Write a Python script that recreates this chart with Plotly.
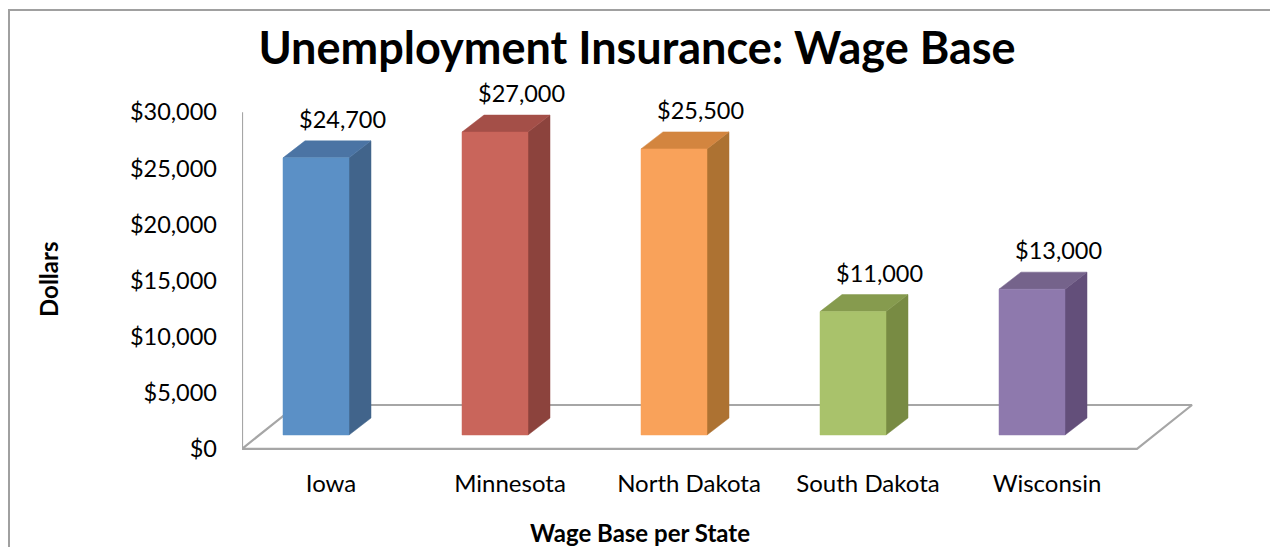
import plotly.graph_objects as go

# ---------------- data ----------------
states = ["Iowa", "Minnesota", "North Dakota", "South Dakota", "Wisconsin"]
wage_base = [24700, 27000, 25500, 11000, 13000]
y_ticks = [0, 5000, 10000, 15000, 20000, 25000, 30000]
y_tick_text = ["$0", "$5,000", "$10,000", "$15,000", "$20,000", "$25,000", "$30,000"]

front_colors = ["#5B90C6", "#C9655B", "#F9A25A", "#A9C26B", "#8E79AD"]
side_colors = ["#41648B", "#8C433D", "#AD7232", "#788B43", "#634F7A"]
top_colors = ["#4B74A4", "#A44F48", "#D3853F", "#869B4E", "#75638B"]

# ---------------- geometry (pixel-based styling, page coords) ----------------
OFF = 8                                   # page body margin
W_PAGE, H_PAGE = 1278, 547
W_FIG, H_FIG = W_PAGE - OFF, H_PAGE - OFF
PLOT_L, PLOT_T, PLOT_R, PLOT_B = 242, 80, 1211, 457     # page px
L, T = PLOT_L - OFF, PLOT_T - OFF
R, B = W_FIG - (PLOT_R - OFF), H_FIG - (PLOT_B - OFF)
PW, PH = PLOT_R - PLOT_L, PLOT_B - PLOT_T
PX_PER_CAT = 179.0
PX_PER_DOLLAR = 0.01122
FIRST_CENTER_PX = 316
BASE_PX = 435

x0r = -(FIRST_CENTER_PX - PLOT_L) / PX_PER_CAT
x1r = x0r + PW / PX_PER_CAT
y1r = (BASE_PX - PLOT_T) / PX_PER_DOLLAR
y0r = y1r - PH / PX_PER_DOLLAR

BAR_W = 66 / PX_PER_CAT
DX = 22 / PX_PER_CAT
DY = 17 / PX_PER_DOLLAR
TICK_OFF = 1230
FLOOR_FRONT = -TICK_OFF
FLOOR_BACK = (BASE_PX - 405) / PX_PER_DOLLAR
FLOOR_DX = 55 / PX_PER_CAT


def px_x(p):
    return (p - PLOT_L) / PW


def px_y(p):
    return (PLOT_B - p) / PH


fig = go.Figure()

fl_left = x0r
fl_right = x0r + 5.0
fig.add_trace(go.Scatter(
    x=[fl_left, fl_right, fl_right + FLOOR_DX, fl_left + FLOOR_DX, fl_left],
    y=[FLOOR_FRONT, FLOOR_FRONT, FLOOR_BACK, FLOOR_BACK, FLOOR_FRONT],
    mode="lines", line=dict(color="#A6A6A6", width=2.2),
    hoverinfo="skip", showlegend=False))
fig.add_trace(go.Scatter(
    x=[fl_left, fl_left], y=[FLOOR_FRONT, y_ticks[-1] - TICK_OFF],
    mode="lines", line=dict(color="#A6A6A6", width=2.2),
    hoverinfo="skip", showlegend=False))

for i, (s, v) in enumerate(zip(states, wage_base)):
    xl, xr = i - BAR_W / 2, i + BAR_W / 2
    fig.add_trace(go.Scatter(
        x=[xr, xr + DX, xr + DX, xr, xr], y=[0, DY, v + DY, v, 0],
        fill="toself", fillcolor=side_colors[i], mode="lines",
        line=dict(color=side_colors[i], width=0.5),
        hoverinfo="skip", showlegend=False))
    fig.add_trace(go.Scatter(
        x=[xl, xr, xr + DX, xl + DX, xl], y=[v, v, v + DY, v + DY, v],
        fill="toself", fillcolor=top_colors[i], mode="lines",
        line=dict(color=top_colors[i], width=0.5),
        hoverinfo="skip", showlegend=False))
    fig.add_trace(go.Scatter(
        x=[xl, xr, xr, xl, xl], y=[0, 0, v, v, 0],
        fill="toself", fillcolor=front_colors[i], mode="lines",
        line=dict(color=front_colors[i], width=0.5),
        name=s, hovertemplate=s + ": $%{customdata:,}<extra></extra>",
        customdata=[v] * 5, showlegend=False))
    fig.add_annotation(x=i, y=v, xref="x", yref="y", text="${:,}".format(v),
                       showarrow=False, xshift=26, yshift=39,
                       font=dict(family="Lato", size=23.5, color="#000000"))

FONT = "Lato"
fig.update_layout(
    width=W_FIG, height=H_FIG, autosize=False,
    margin=dict(l=L, r=R, t=T, b=B, pad=0),
    paper_bgcolor="white", plot_bgcolor="white",
    title=dict(text="<b>Unemployment Insurance: Wage Base</b>",
               x=px_x(637), xref="paper", xanchor="center",
               y=1 - (48 - OFF) / H_FIG, yref="container", yanchor="middle",
               font=dict(family=FONT, size=45, color="#000000")),
    xaxis=dict(range=[x0r, x1r], showgrid=False, zeroline=False, showline=False,
               tickmode="array", tickvals=[i + 15 / PX_PER_CAT for i in range(len(states))],
               ticktext=states, ticks="", ticklabelstandoff=10,
               tickfont=dict(family=FONT, size=24, color="#000000")),
    yaxis=dict(range=[y0r, y1r], showgrid=False, zeroline=False, showline=False,
               tickmode="array", tickvals=[t - TICK_OFF for t in y_ticks],
               ticktext=y_tick_text, ticks="", ticklabelstandoff=24,
               tickfont=dict(family=FONT, size=23.5, color="#000000")),
    annotations=list(fig.layout.annotations) + [
        dict(text="<b>Dollars</b>", xref="paper", yref="paper",
             x=px_x(48), y=px_y(280), textangle=-90,
             showarrow=False, xanchor="center", yanchor="middle",
             font=dict(family=FONT, size=24, color="#000000")),
        dict(text="<b>Wage Base per State</b>", xref="paper", yref="paper",
             x=px_x(640), y=px_y(532),
             showarrow=False, xanchor="center", yanchor="middle",
             font=dict(family=FONT, size=24, color="#000000")),
    ],
    shapes=[dict(type="rect", xref="paper", yref="paper",
                 x0=px_x(9), x1=px_x(1300),
                 y0=px_y(580), y1=px_y(10),
                 line=dict(color="#A0A0A0", width=2), fillcolor="rgba(0,0,0,0)",
                 layer="below")],
)

fig.write_html("out.html")
